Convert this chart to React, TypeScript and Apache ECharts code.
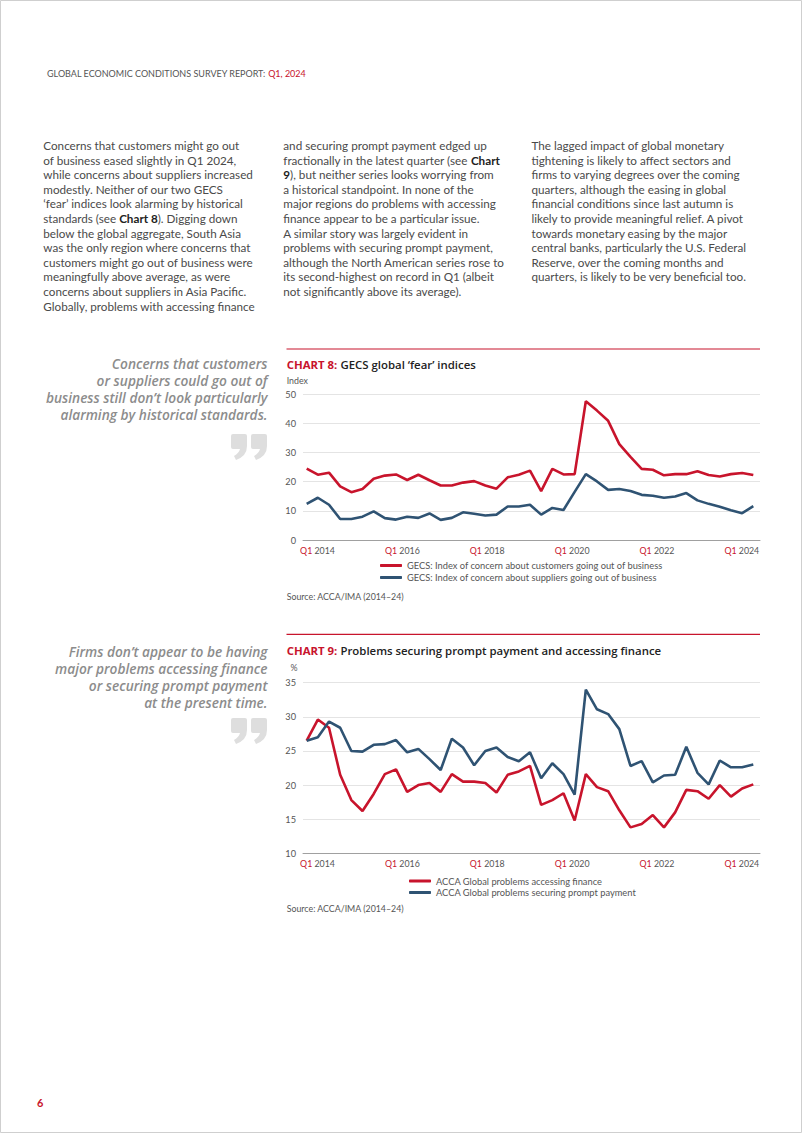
import React, { useEffect, useRef } from "react";
import * as echarts from "echarts";

// ---------------- DATA ----------------
const quarters: string[] = [];
for (let y = 2014; y <= 2024; y++) for (let q = 1; q <= 4; q++) if (!(y === 2024 && q > 1)) quarters.push(`Q${q} ${y}`);

const tickLabels = ["Q1 2014", "Q1 2016", "Q1 2018", "Q1 2020", "Q1 2022", "Q1 2024"];

const chart8Title = "GECS global ‘fear’ indices";
const chart8Customers = [
  24.5, 22.4, 23.1, 18.4, 16.4, 17.5, 21.0, 22.1, 22.5, 20.6, 22.4, 20.5, 18.7, 18.7, 19.7, 20.2, 18.7, 17.6, 21.5, 22.4,
  23.8, 16.8, 24.4, 22.5, 22.6, 47.6, 44.4, 40.9, 32.9, 28.5, 24.4, 24.1, 22.2, 22.6, 22.6, 23.6, 22.3, 21.8, 22.6, 23.0,
  22.3,
];
const chart8Suppliers = [
  12.4, 14.5, 12.1, 7.2, 7.2, 8.0, 9.8, 7.5, 7.0, 8.0, 7.6, 9.1, 6.9, 7.6, 9.5, 9.0, 8.4, 8.7, 11.5, 11.5,
  12.1, 8.7, 11.0, 10.3, 16.5, 22.6, 20.1, 17.2, 17.5, 16.8, 15.5, 15.2, 14.5, 14.9, 16.1, 13.6, 12.4, 11.4, 10.2, 9.2,
  11.6,
];
const chart8Names = [
  "GECS: Index of concern about customers going out of business",
  "GECS: Index of concern about suppliers going out of business",
];
const chart8YTicks = { min: 0, max: 50, step: 10 };

const chart9Title = "Problems securing prompt payment and accessing finance";
const chart9Finance = [
  26.5, 29.6, 28.4, 21.5, 17.8, 16.2, 18.7, 21.6, 22.3, 19.0, 20.0, 20.3, 19.0, 21.6, 20.5, 20.5, 20.3, 18.9, 21.5, 22.0,
  22.8, 17.1, 17.8, 18.8, 14.8, 21.6, 19.7, 19.1, 16.3, 13.8, 14.3, 15.6, 13.8, 16.0, 19.3, 19.1, 18.0, 20.0, 18.3, 19.5,
  20.1,
];
const chart9Payment = [
  26.5, 27.0, 29.3, 28.4, 25.0, 24.9, 25.9, 26.0, 26.6, 24.8, 25.3, 23.8, 22.2, 26.8, 25.5, 22.9, 25.0, 25.5, 24.1, 23.5,
  24.8, 21.0, 23.2, 21.6, 18.6, 34.0, 31.1, 30.4, 28.2, 22.8, 23.5, 20.4, 21.4, 21.5, 25.6, 21.8, 20.1, 23.6, 22.6, 22.6,
  23.0,
];
const chart9Names = ["ACCA Global problems accessing finance", "ACCA Global problems securing prompt payment"];
const chart9YTicks = { min: 10, max: 35, step: 5 };

const sourceText = "Source: ACCA/IMA (2014–24)";

const headerText = "GLOBAL ECONOMIC CONDITIONS SURVEY REPORT: ";
const headerAccent = "Q1, 2024";

const col1 = [
  "Concerns that customers might go out",
  "of business eased slightly in Q1 2024,",
  "while concerns about suppliers increased",
  "modestly. Neither of our two GECS",
  "‘fear’ indices look alarming by historical",
  "standards (see {b|Chart 8}). Digging down",
  "below the global aggregate, South Asia",
  "was the only region where concerns that",
  "customers might go out of business were",
  "meaningfully above average, as were",
  "concerns about suppliers in Asia Pacific.",
  "Globally, problems with accessing finance",
];
const col2 = [
  "and securing prompt payment edged up",
  "fractionally in the latest quarter (see {b|Chart}",
  "{b|9}), but neither series looks worrying from",
  "a historical standpoint. In none of the",
  "major regions do problems with accessing",
  "finance appear to be a particular issue.",
  "A similar story was largely evident in",
  "problems with securing prompt payment,",
  "although the North American series rose to",
  "its second-highest on record in Q1 (albeit",
  "not significantly above its average).",
];
const col3 = [
  "The lagged impact of global monetary",
  "tightening is likely to affect sectors and",
  "firms to varying degrees over the coming",
  "quarters, although the easing in global",
  "financial conditions since last autumn is",
  "likely to provide meaningful relief. A pivot",
  "towards monetary easing by the major",
  "central banks, particularly the U.S. Federal",
  "Reserve, over the coming months and",
  "quarters, is likely to be very beneficial too.",
];
const quote1 = [
  "Concerns that customers",
  "or suppliers could go out of",
  "business still don’t look particularly",
  "alarming by historical standards.",
];
const quote2 = [
  "Firms don’t appear to be having",
  "major problems accessing finance",
  "or securing prompt payment",
  "at the present time.",
];

// ---------------- STYLE / LAYOUT ----------------
const FONT = 'Lato, "Noto Sans", sans-serif';
const WIDE = '"Open Sans", Lato, sans-serif';
const RED = "#c8142c";
const BLUE = "#2f5373";
const TEXT = "#4a4a4a";
const AXIS_TEXT = "#555555";
const LABEL_START = 0.97;
const LABEL_STEP = 7.6;

const QUOTE_PATH =
  "M2 0 H14 Q16 0 16 2 V12 Q16 22 5 26 L3 22 Q8 19 9 15 H2 Q0 15 0 13 V2 Q0 0 2 0 Z " +
  "M22 0 H34 Q36 0 36 2 V12 Q36 22 25 26 L23 22 Q28 19 29 15 H22 Q20 15 20 13 V2 Q20 0 22 0 Z";
echarts.graphic.registerShape("quoteMark", echarts.graphic.extendPath(QUOTE_PATH, {}));

function xAxisFor(gridIndex: number) {
  return {
    type: "value",
    gridIndex,
    min: -0.33,
    max: 40.6,
    axisLine: { show: true, lineStyle: { color: "#a0a0a0", width: 1 } },
    axisTick: { show: false },
    splitLine: { show: false },
    axisLabel: {
      customValues: tickLabels.map((_, k) => LABEL_START + k * LABEL_STEP),
      margin: 6,
      formatter: (v: number) => {
        const k = Math.round((v - LABEL_START) / LABEL_STEP);
        const parts = (tickLabels[k] || "").split(" ");
        return `{r|${parts[0]}}{g| ${parts[1]}}`;
      },
      rich: {
        r: { color: RED, fontSize: 8.8, fontFamily: FONT },
        g: { color: AXIS_TEXT, fontSize: 8.8, fontFamily: FONT },
      },
    },
  };
}

function yAxisFor(gridIndex: number, t: { min: number; max: number; step: number }) {
  return {
    type: "value",
    gridIndex,
    min: t.min,
    max: t.max,
    interval: t.step,
    axisLine: { show: false },
    axisTick: { show: false },
    splitLine: { lineStyle: { color: "#e4e4e4", width: 1 } },
    axisLabel: { color: AXIS_TEXT, fontSize: 9.2, fontFamily: FONT, margin: 7 },
  };
}

function lineSeries(name: string, values: number[], color: string, idx: number) {
  return {
    type: "line",
    name,
    xAxisIndex: idx,
    yAxisIndex: idx,
    data: values.map((v, i) => [i, v]),
    showSymbol: false,
    symbol: "none",
    lineStyle: { color, width: 2.6 },
    itemStyle: { color },
    silent: true,
  };
}

function textEl(x: number, y: number, text: string, style: any) {
  return { type: "text", x, y, style: { text, fontFamily: FONT, ...style } };
}

function bodyColumn(x: number, lines: string[]) {
  return textEl(x, 137.7, lines.join("\n"), {
    fontSize: 11.7,
    lineHeight: 14.6,
    fill: TEXT,
    verticalAlign: "top",
    rich: {
      b: { fontWeight: "bold", fill: "#222", fontSize: 11.7, lineHeight: 14.6, fontFamily: FONT },
    },
  });
}

function quoteBlock(y: number, lines: string[]) {
  return textEl(267.5, y, lines.join("\n"), {
    fontFamily: WIDE,
    fontSize: 13.7,
    lineHeight: 17.1,
    fill: "#8c8c8c",
    fontStyle: "italic",
    fontWeight: 600,
    align: "right",
    verticalAlign: "top",
  });
}

function chartTitle(y: number, n: number, title: string) {
  return textEl(286.7, y, `{r|CHART ${n}:} {d|${title}}`, {
    verticalAlign: "middle",
    rich: {
      r: { fill: RED, fontWeight: "bold", fontSize: 11.4, fontFamily: WIDE },
      d: { fill: "#222", fontWeight: 600, fontSize: 11.4, fontFamily: WIDE },
    },
  });
}

const legendText = { fontSize: 9.3, color: AXIS_TEXT, fontFamily: FONT };

export default function App() {
  const ref = useRef<HTMLDivElement>(null);
  useEffect(() => {
    document.body.style.margin = "0";
    const chart = echarts.init(ref.current!, null, { renderer: "svg", width: 802, height: 1133 });
    const option: any = {
      animation: false,
      backgroundColor: "#ffffff",
      grid: [
        { left: 303, width: 457, top: 394.3, height: 145.7 },
        { left: 303, width: 457, top: 682.7, height: 170.6 },
      ],
      xAxis: [xAxisFor(0), xAxisFor(1)],
      yAxis: [yAxisFor(0, chart8YTicks), yAxisFor(1, chart9YTicks)],
      legend: [
        {
          data: chart8Names,
          orient: "vertical",
          left: 380,
          top: 561,
          itemWidth: 22,
          itemHeight: 3,
          itemGap: 3,
          icon: "roundRect",
          padding: 0,
          selectedMode: false,
          textStyle: legendText,
        },
        {
          data: chart9Names,
          orient: "vertical",
          left: 409,
          top: 876.5,
          itemWidth: 22,
          itemHeight: 3,
          itemGap: 2.5,
          icon: "roundRect",
          padding: 0,
          selectedMode: false,
          textStyle: legendText,
        },
      ],
      series: [
        lineSeries(chart8Names[0], chart8Customers, RED, 0),
        lineSeries(chart8Names[1], chart8Suppliers, BLUE, 0),
        lineSeries(chart9Names[0], chart9Finance, RED, 1),
        lineSeries(chart9Names[1], chart9Payment, BLUE, 1),
      ],
      graphic: [
        { type: "rect", shape: { x: 0.5, y: 0.5, width: 801, height: 1132 }, style: { fill: "none", stroke: "#cfcfcf", lineWidth: 1 } },
        textEl(47, 73, `{g|${headerText}}{r|${headerAccent}}`, {
          verticalAlign: "middle",
          rich: {
            g: { fill: "#555", fontSize: 9, fontFamily: FONT },
            r: { fill: RED, fontSize: 9, fontFamily: FONT },
          },
        }),
        bodyColumn(43.3, col1),
        bodyColumn(283.3, col2),
        bodyColumn(531.5, col3),
        quoteBlock(355, quote1),
        quoteBlock(642.5, quote2),
        { type: "quoteMark", x: 231, y: 434, style: { fill: "#dedede" } },
        { type: "quoteMark", x: 231, y: 718, style: { fill: "#dedede" } },
        { type: "line", shape: { x1: 286.5, y1: 349, x2: 760, y2: 349 }, style: { stroke: RED, lineWidth: 1.2 } },
        { type: "line", shape: { x1: 286.5, y1: 634.3, x2: 760, y2: 634.3 }, style: { stroke: RED, lineWidth: 1.2 } },
        chartTitle(364.3, 8, chart8Title),
        chartTitle(650, 9, chart9Title),
        textEl(286.7, 380, "Index", { fill: AXIS_TEXT, fontSize: 8.8, verticalAlign: "middle" }),
        textEl(290.5, 667.7, "%", { fill: AXIS_TEXT, fontSize: 8.8, verticalAlign: "middle" }),
        textEl(286.7, 596, sourceText, { fill: AXIS_TEXT, fontSize: 8.8, verticalAlign: "middle" }),
        textEl(286.7, 908.7, sourceText, { fill: AXIS_TEXT, fontSize: 8.8, verticalAlign: "middle" }),
        textEl(37, 1102, "6", { fill: RED, fontSize: 11, fontWeight: "bold", verticalAlign: "middle" }),
      ],
    };
    chart.setOption(option);
    return () => chart.dispose();
  }, []);
  return <div ref={ref} style={{ width: 802, height: 1133, background: "#fff" }} />;
}
